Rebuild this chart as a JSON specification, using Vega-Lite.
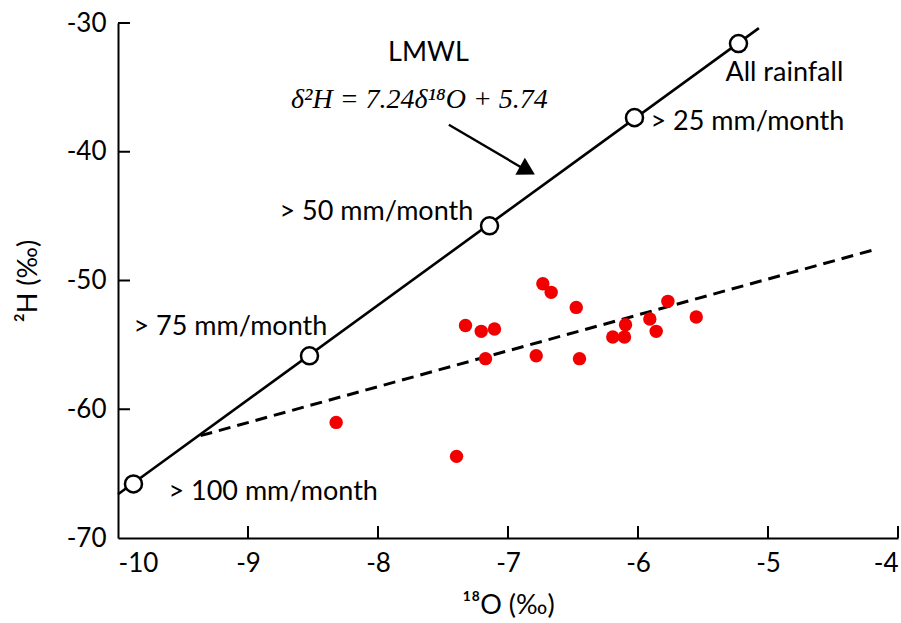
{
  "$schema": "https://vega.github.io/schema/vega-lite/v6.json",
  "width": 780,
  "height": 515,
  "autosize": "none",
  "padding": {"left": 118, "top": 23, "right": 3, "bottom": 85},
  "background": "white",
  "config": {
    "view": {"stroke": null},
    "font": "Lato",
    "axis": {
      "grid": false,
      "domainColor": "black",
      "domainWidth": 2,
      "ticks": false,
      "labelColor": "black",
      "labelFont": "Lato",
      "labelFontSize": 26,
      "titleColor": "black",
      "titleFont": "Lato",
      "titleFontSize": 27,
      "titleFontWeight": "normal",
      "labelExpr": "'' + datum.value"
    }
  },
  "datasets": {
    "lmwl": [
      {"d18O": -10.0, "d2H": -66.6},
      {"d18O": -5.07, "d2H": -30.4}
    ],
    "thresholds": [
      {"d18O": -9.881, "d2H": -65.8, "label": "> 100 mm/month"},
      {"d18O": -8.527, "d2H": -55.85, "label": "> 75 mm/month"},
      {"d18O": -7.142, "d2H": -45.75, "label": "> 50 mm/month"},
      {"d18O": -6.027, "d2H": -37.35, "label": "> 25 mm/month"},
      {"d18O": -5.227, "d2H": -31.6, "label": "All rainfall"}
    ],
    "fit": [
      {"d18O": -9.365, "d2H": -62.05},
      {"d18O": -4.18, "d2H": -47.6}
    ],
    "samples": [
      {"d18O": -8.322, "d2H": -61.02},
      {"d18O": -7.396, "d2H": -63.66},
      {"d18O": -7.327, "d2H": -53.49},
      {"d18O": -7.206, "d2H": -53.95},
      {"d18O": -7.104, "d2H": -53.77},
      {"d18O": -7.173, "d2H": -56.07},
      {"d18O": -6.783, "d2H": -55.84},
      {"d18O": -6.732, "d2H": -50.25},
      {"d18O": -6.668, "d2H": -50.92},
      {"d18O": -6.475, "d2H": -52.09},
      {"d18O": -6.45, "d2H": -56.07},
      {"d18O": -6.194, "d2H": -54.39},
      {"d18O": -6.104, "d2H": -54.39},
      {"d18O": -6.096, "d2H": -53.43},
      {"d18O": -5.909, "d2H": -52.99},
      {"d18O": -5.86, "d2H": -53.95},
      {"d18O": -5.77, "d2H": -51.62},
      {"d18O": -5.552, "d2H": -52.83}
    ],
    "labels": [
      {"d18O": -9.612, "d2H": -66.4, "label": "> 100 mm/month"},
      {"d18O": -9.881, "d2H": -53.59, "label": "> 75 mm/month"},
      {"d18O": -8.758, "d2H": -44.66, "label": "> 50 mm/month"},
      {"d18O": -5.904, "d2H": -37.67, "label": "> 25 mm/month"},
      {"d18O": -5.327, "d2H": -33.86, "label": "All rainfall"}
    ],
    "arrow": [
      {"d18O": -7.455, "d2H": -37.9, "d18O_end": -6.9, "d2H_end": -41.2}
    ],
    "arrowHead": [
      {"d18O": -6.85, "d2H": -41.45}
    ],
    "titles": [
      {"d18O": -7.612, "d2H": -32.31, "label": "LMWL"}
    ],
    "equation": [
      {"d18O": -7.681, "d2H": -35.96, "label": "δ²H = 7.24δ¹⁸O + 5.74"}
    ],
    "xTicks": [
      {"d18O": -9, "d2H": -70}, {"d18O": -8, "d2H": -70}, {"d18O": -7, "d2H": -70},
      {"d18O": -6, "d2H": -70}, {"d18O": -5, "d2H": -70}, {"d18O": -4, "d2H": -70}
    ],
    "yTicks": [
      {"d18O": -10, "d2H": -60}, {"d18O": -10, "d2H": -50},
      {"d18O": -10, "d2H": -40}, {"d18O": -10, "d2H": -30}
    ]
  },
  "encoding": {
    "x": {
      "field": "d18O",
      "type": "quantitative",
      "scale": {"domain": [-10, -4], "nice": false, "zero": false},
      "axis": {"title": "¹⁸O (‰)", "values": [-10, -9, -8, -7, -6, -5, -4], "labelPadding": 12, "titlePadding": 16}
    },
    "y": {
      "field": "d2H",
      "type": "quantitative",
      "scale": {"domain": [-70, -30], "nice": false, "zero": false},
      "axis": {"title": "²H (‰)", "values": [-70, -60, -50, -40, -30], "labelPadding": 12, "titlePadding": 24}
    }
  },
  "layer": [
    {
      "data": {"name": "xTicks"},
      "mark": {"type": "tick", "orient": "vertical", "color": "black", "size": 12, "thickness": 2, "opacity": 1, "yOffset": -6}
    },
    {
      "data": {"name": "yTicks"},
      "mark": {"type": "tick", "orient": "horizontal", "color": "black", "size": 12, "thickness": 2, "opacity": 1, "xOffset": 6}
    },
    {
      "data": {"name": "fit"},
      "mark": {"type": "line", "color": "black", "strokeWidth": 3, "strokeDash": [12, 7]}
    },
    {
      "data": {"name": "lmwl"},
      "mark": {"type": "line", "color": "black", "strokeWidth": 2.6}
    },
    {
      "data": {"name": "samples"},
      "mark": {"type": "circle", "color": "#f20000", "size": 180, "opacity": 1}
    },
    {
      "data": {"name": "thresholds"},
      "mark": {"type": "point", "shape": "circle", "filled": true, "fill": "white", "stroke": "black", "strokeWidth": 2.5, "size": 290, "opacity": 1}
    },
    {
      "data": {"name": "arrow"},
      "mark": {"type": "rule", "color": "black", "strokeWidth": 2.4},
      "encoding": {
        "x2": {"field": "d18O_end"},
        "y2": {"field": "d2H_end"}
      }
    },
    {
      "data": {"name": "arrowHead"},
      "mark": {"type": "point", "shape": "triangle-right", "angle": 29, "filled": true, "color": "black", "size": 380, "opacity": 1}
    },
    {
      "data": {"name": "labels"},
      "mark": {"type": "text", "align": "left", "baseline": "middle", "fontSize": 27, "font": "Lato", "color": "black"},
      "encoding": {"text": {"field": "label"}}
    },
    {
      "data": {"name": "titles"},
      "mark": {"type": "text", "align": "center", "baseline": "middle", "fontSize": 27, "font": "Lato", "color": "black"},
      "encoding": {"text": {"field": "label"}}
    },
    {
      "data": {"name": "equation"},
      "mark": {"type": "text", "align": "center", "baseline": "middle", "fontSize": 28, "font": "Liberation Serif", "fontStyle": "italic", "color": "black"},
      "encoding": {"text": {"field": "label"}}
    }
  ]
}
